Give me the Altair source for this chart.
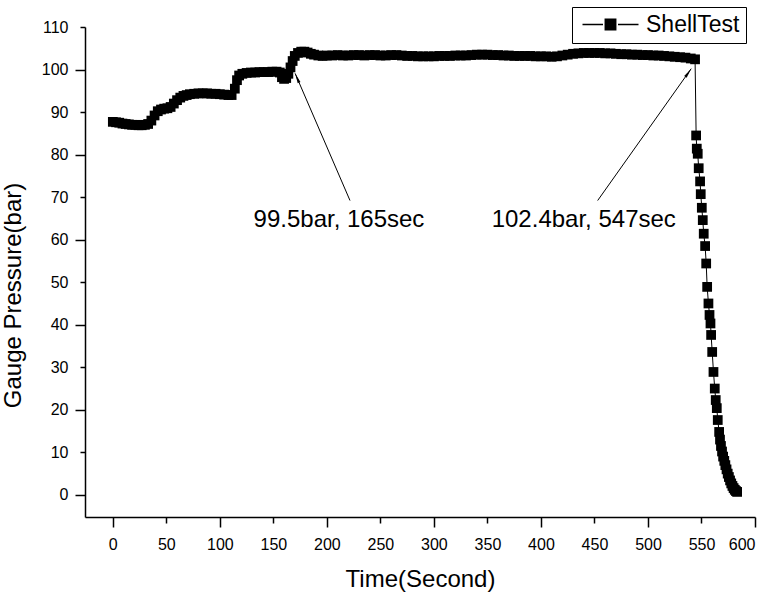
import altair as alt
import pandas as pd

# ---- data ----
time_s = [
    0, 3, 6, 9, 12, 15, 18, 21, 24, 27, 30, 33, 36, 39, 42, 45, 48, 51, 54, 57,
    60, 63, 66, 69, 72, 76, 80, 84, 88, 92, 96, 100, 104, 108, 111, 114, 116, 118,
    121, 125, 129, 133, 137, 141, 145, 149, 153, 156, 158, 160, 162, 164, 166, 168,
    170, 173, 176, 179, 182, 185, 188, 192, 196,
    200, 205, 210, 215, 220, 225, 230, 235, 240, 245, 250, 255, 260, 265, 270, 275,
    280, 285, 290, 295, 300, 305, 310, 315, 320, 325, 330, 335, 340, 345, 350, 355,
    360, 365, 370, 375, 380, 385, 390, 395, 400, 405, 410, 415, 420, 425, 430, 435,
    440, 445, 450, 455, 460, 465, 470, 475, 480, 485, 490, 495, 500, 505, 510, 515,
    520, 525, 530, 535, 540, 544,
    545.0, 545.6, 546.5, 547.4, 548.7, 549.3, 550.3, 551.2, 552.1, 553.4, 554.4,
    555.3, 556.5, 557.5, 558.4, 559.0, 560.0, 561.2, 562.4, 563.3, 564.3, 565.2,
    566.5, 567.3, 568.2, 569.2, 570.2, 571.3, 572.3, 573.4, 574.5, 575.6, 576.7,
    577.8, 578.9, 580.0, 581.1, 582.2, 583.3,
]
pressure_bar = [
    87.7, 87.6, 87.5, 87.3, 87.2, 87.1, 87.0, 87.0, 86.9, 86.9, 87.0, 87.2, 88.0,
    89.2, 90.2, 90.6, 90.8, 90.9, 91.2, 92.0, 92.8, 93.4, 93.8, 94.0, 94.2, 94.3,
    94.4, 94.4, 94.4, 94.3, 94.3, 94.2, 94.1, 94.0, 94.0, 95.5, 97.5, 98.6, 99.0,
    99.2, 99.3, 99.3, 99.4, 99.4, 99.4, 99.5, 99.5, 99.3, 98.2, 97.8, 98.0, 99.0,
    100.5, 102.0, 103.2, 103.9, 104.2, 104.2, 104.0, 103.7, 103.5, 103.3, 103.2,
    103.3, 103.3, 103.4, 103.3, 103.3, 103.4, 103.4, 103.3, 103.4, 103.4, 103.3,
    103.3, 103.4, 103.4, 103.3, 103.2, 103.2, 103.1, 103.1, 103.1, 103.1, 103.2,
    103.2, 103.2, 103.3, 103.3, 103.3, 103.4, 103.5, 103.5, 103.5, 103.4, 103.4,
    103.3, 103.3, 103.2, 103.2, 103.2, 103.2, 103.1, 103.1, 103.1, 103.0, 103.1,
    103.3, 103.5, 103.7, 103.8, 103.9, 103.9, 103.9, 103.9, 103.8, 103.8, 103.7,
    103.6, 103.6, 103.5, 103.5, 103.4, 103.4, 103.3, 103.3, 103.2, 103.1, 103.0,
    102.9, 102.8, 102.6, 102.4,
    84.5, 81.4, 80.2, 76.8, 73.7, 70.7, 67.5, 64.6, 61.4, 58.5, 54.4,
    48.9, 45.0, 42.3, 40.3, 37.6, 33.6, 28.9, 25.0, 22.3, 20.4, 17.6,
    14.8, 13.0, 11.5, 10.2, 9.0, 8.0, 7.0, 6.0, 5.0, 4.2, 3.4,
    2.7, 2.1, 1.6, 1.2, 0.9, 0.7,
]
series_name = "ShellTest"

ann_text = ["99.5bar, 165sec", "102.4bar, 547sec"]
ann_text_x = [211.3, 440.0]
ann_text_y = [64.6, 64.6]
ann_from_x = [221.6, 453.0]
ann_from_y = [69.2, 69.2]
ann_to_x = [170.3, 540.4]
ann_to_y = [99.1, 100.2]
ann_angle = [336.6, 35.4]

x_ticks = [0, 50, 100, 150, 200, 250, 300, 350, 400, 450, 500, 550, 600]
y_ticks = [0, 10, 20, 30, 40, 50, 60, 70, 80, 90, 100, 110]

# ---- tables ----
df = pd.DataFrame({"time": time_s, "pressure": pressure_bar, "series": series_name})
ann = pd.DataFrame({
    "label": ann_text, "time": ann_text_x, "pressure": ann_text_y,
    "from_x": ann_from_x, "from_y": ann_from_y,
    "to_x": ann_to_x, "to_y": ann_to_y, "angle": ann_angle,
})

FONT = "Liberation Sans"
X_SCALE = alt.Scale(domain=[-26, 600], nice=False, zero=False)
Y_SCALE = alt.Scale(domain=[-5.2, 110], nice=False, zero=False)

x_major = "datum.value % 100 === 0"
y_major = "datum.value % 20 === 0"

X_AXIS = alt.Axis(
    values=x_ticks, grid=False, format="d",
    tickSize={"condition": {"test": x_major, "value": 10}, "value": 6},
    labelPadding={"condition": {"test": x_major, "value": 9}, "value": 13},
    labelFontSize=16, labelFont=FONT, labelColor="black",
    title="Time(Second)", titleFont=FONT, titleFontSize=24, titleFontWeight="normal",
    titleColor="black", titleX=335, titleY=62, titleBaseline="middle", titleAlign="center",
    domainColor="black", domainWidth=1.5, tickColor="black", tickWidth=1.5,
)
Y_AXIS = alt.Axis(
    values=y_ticks, grid=False, format="d",
    tickSize={"condition": {"test": y_major, "value": 10}, "value": 5},
    labelPadding={"condition": {"test": y_major, "value": 7}, "value": 12},
    labelFontSize=16, labelFont=FONT, labelColor="black",
    title="Gauge Pressure(bar)", titleFont=FONT, titleFontSize=24, titleFontWeight="normal",
    titleColor="black", titleX=-72, titleY=268, titleBaseline="middle", titleAlign="center",
    titleAngle=270,
    domainColor="black", domainWidth=1.5, tickColor="black", tickWidth=1.5,
)


def xenc(field="time"):
    return alt.X(f"{field}:Q", scale=X_SCALE, axis=X_AXIS, title="Time(Second)")


def yenc(field="pressure"):
    return alt.Y(f"{field}:Q", scale=Y_SCALE, axis=Y_AXIS, title="Gauge Pressure(bar)")


LEGEND_PATH = "M-7,0H-1.875M1.875,0H7M-1.3,-1.3H1.3V1.3H-1.3Z"

legend = alt.Legend(
    title=None, orient="none", legendX=487, legendY=-20,
    strokeColor="black", fillColor="white", padding=6,
    symbolType=LEGEND_PATH, symbolSize=64, symbolStrokeWidth=1.5,
    symbolFillColor="black", symbolStrokeColor="black", symbolOffset=21,
    labelFont=FONT, labelFontSize=23, labelColor="black", labelOffset=24,
)

line = alt.Chart(df).mark_line(strokeWidth=1).encode(
    x=xenc(), y=yenc(),
    color=alt.Color("series:N", scale=alt.Scale(range=["black"]), legend=legend),
)
squares = alt.Chart(df).mark_square(size=95, color="black", opacity=1).encode(
    x=xenc(), y=yenc(),
)
arrows = alt.Chart(ann).mark_rule(color="black", strokeWidth=1).encode(
    x=xenc("from_x"), y=yenc("from_y"),
    x2=alt.X2("to_x:Q"), y2=alt.Y2("to_y:Q"),
)
heads = alt.Chart(ann).mark_point(
    shape="M0,0L-0.3,2L0.3,2Z", filled=True, color="black", size=100, opacity=1,
).encode(
    x=xenc("to_x"), y=yenc("to_y"), angle=alt.Angle("angle:Q", scale=None),
)
labels = alt.Chart(ann).mark_text(
    font=FONT, fontSize=24, color="black", align="center", baseline="middle",
).encode(
    x=xenc(), y=yenc(), text="label:N",
)

chart = alt.layer(line, squares, arrows, heads, labels).properties(
    width=670, height=490,
    autosize=alt.AutoSizeParams(type="none"),
    padding={"left": 85, "top": 27, "right": 19, "bottom": 79},
    background="white",
).configure_view(stroke=None)

chart.save("out.html", embed_options={"renderer": "svg", "actions": False})
